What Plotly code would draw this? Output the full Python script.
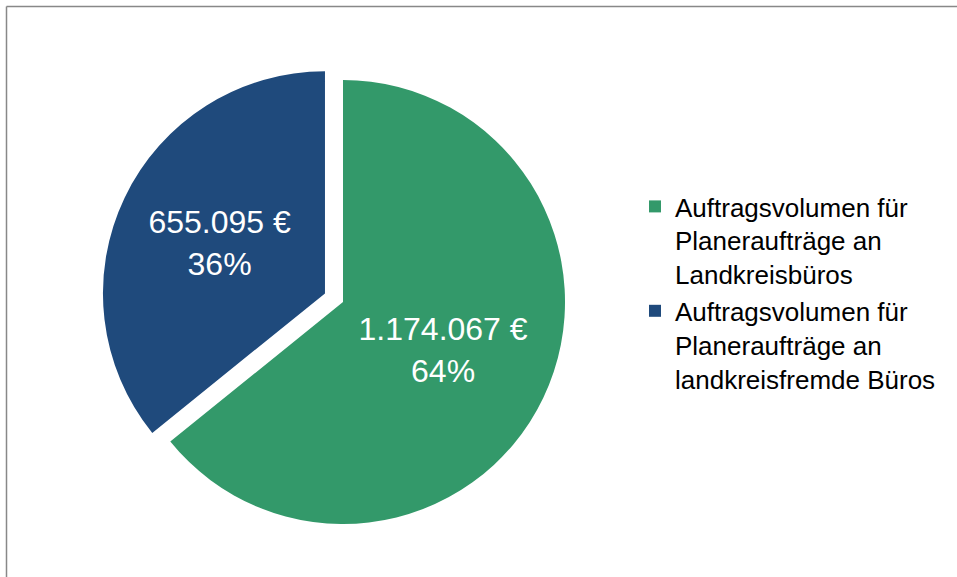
import plotly.graph_objects as go

labels = [
    "Auftragsvolumen für<br>Planeraufträge an<br>Landkreisbüros",
    "Auftragsvolumen für<br>Planeraufträge an<br>landkreisfremde Büros",
]
values = [1174067, 655095]
colors = ["#33996A", "#1F4A7C"]
pulls = [0, 0.09]

W, H = 957, 577

def px_x(x):
    return x / W

def px_y(y):
    return 1 - y / H

fig = go.Figure(
    go.Pie(
        labels=labels,
        values=values,
        sort=False,
        direction="clockwise",
        rotation=0,
        pull=pulls,
        marker=dict(colors=colors, line=dict(width=0)),
        texttemplate="%{value:,.0f} €<br>%{percent:.0%}",
        textposition="inside",
        insidetextorientation="horizontal",
        textfont=dict(family="Liberation Sans, Arial", size=32, color="white"),
        hoverinfo="skip",
        domain=dict(x=[px_x(101), px_x(585)], y=[px_y(544), px_y(60)]),
    )
)

border = dict(color="#888888", width=1.5)

fig.update_layout(
    width=W,
    height=H,
    margin=dict(l=0, r=0, t=0, b=0),
    paper_bgcolor="white",
    plot_bgcolor="white",
    separators=",.",
    font=dict(family="Liberation Sans, Arial", color="black"),
    legend=dict(
        x=px_x(635),
        y=px_y(183),
        xanchor="left",
        yanchor="top",
        font=dict(size=26, color="black"),
        valign="top",
        itemclick=False,
        itemdoubleclick=False,
    ),
    shapes=[
        dict(type="line", xref="paper", yref="paper",
             x0=px_x(6.5), x1=1.05, y0=px_y(6.5), y1=px_y(6.5), line=border),
        dict(type="line", xref="paper", yref="paper",
             x0=px_x(6.5), x1=px_x(6.5), y0=-0.05, y1=px_y(6.5), line=border),
    ],
)

fig.write_html(
    "out.html",
    include_plotlyjs=True,
    full_html=True,
    config={"displayModeBar": False, "responsive": False},
    post_script=(
        "document.documentElement.style.overflow='hidden';"
        "document.body.style.margin='0';"
        "document.body.style.overflow='hidden';"
    ),
)
